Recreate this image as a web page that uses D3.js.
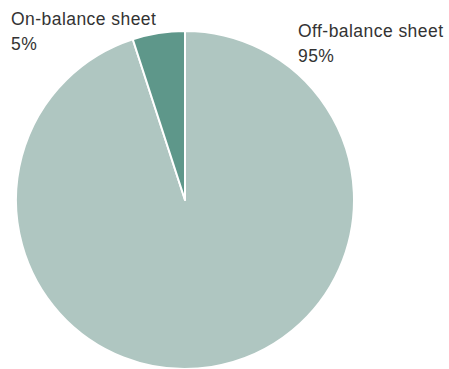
<!DOCTYPE html>
<html>
<head>
<meta charset="utf-8">
<script src="https://cdn.jsdelivr.net/npm/d3@7"></script>
<style>
  html, body { margin: 0; padding: 0; background: #fff; }
  svg { display: block; }
  text { font-family: "Liberation Sans", Arial, sans-serif; fill: #333; }
</style>
</head>
<body>
<svg id="chart" width="449" height="369"></svg>
<script>
const categories = ["Off-balance sheet", "On-balance sheet"];
const values = [95, 5];
const colors = ["#afc6c1", "#5e978a"];

const svg = d3.select("#chart");
const cx = 185, cy = 200, r = 169;

const data = categories.map((c, i) => ({ name: c, value: values[i], color: colors[i] }));
const pie = d3.pie().value(d => d.value).sort(null);
const arc = d3.arc().innerRadius(0).outerRadius(r);

const g = svg.append("g").attr("transform", `translate(${cx},${cy})`);
g.selectAll("path")
  .data(pie(data))
  .join("path")
  .attr("d", arc)
  .attr("fill", d => d.data.color)
  .attr("stroke", "#fff")
  .attr("stroke-width", 2)
  .attr("stroke-linejoin", "round");

// Labels: name on first line, percentage below
const labelPos = [
  { x: 298, y: 37 },
  { x: 11, y: 25 }
];
data.forEach((d, i) => {
  const t = svg.append("text")
    .attr("x", labelPos[i].x)
    .attr("y", labelPos[i].y)
    .style("font-size", "17.5px")
    .style("letter-spacing", "0.45px");
  t.append("tspan").attr("x", labelPos[i].x).text(d.name);
  t.append("tspan").attr("x", labelPos[i].x).attr("dy", 25).text(d.value + "%");
});
</script>
</body>
</html>
